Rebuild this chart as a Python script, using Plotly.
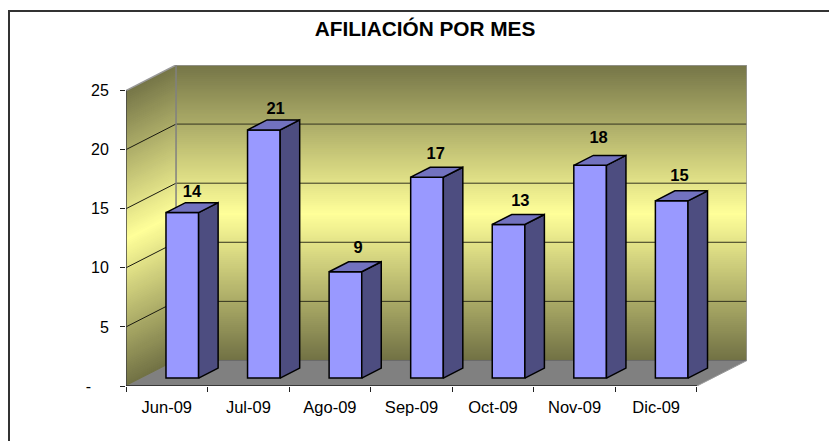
import plotly.graph_objects as go

# ---- data ----
months = ["Jun-09", "Jul-09", "Ago-09", "Sep-09", "Oct-09", "Nov-09", "Dic-09"]
afiliacion = [14, 21, 9, 17, 13, 18, 15]
y_ticks = [0, 5, 10, 15, 20, 25]
y_tick_labels = ["-\u00a0\u00a0\u00a0\u00a0", "5", "10", "15", "20", "25"]
title_text = "AFILIACIÓN POR MES"

# ---- 3D projection in axis units ----
WIDTH, HEIGHT = 829, 441
L, R, T, B = 126, 82, 65, 55
DX = 0.6135      # shift in categories for full floor depth
DY = 2.16        # shift in value units for full floor depth
N = len(months)
YMAX = y_ticks[-1]
BAR_W = 0.40
Z0, Z1 = 0.31, 0.70   # front and back of bars as fraction of depth
PX_PER_CAT = (WIDTH - L - R) / (N + DX)
PX_PER_VAL = (HEIGHT - T - B) / (YMAX + DY)
# hand placement of the value labels, in pixels
label_shift_x = [0, 2, 3, -1, 2, -1.3, -2]
label_shift_y = [0, 1, 3, 2.7, 3, 7.3, 4.5]


def lerp(c1, c2, t):
    return tuple(round(a + (b - a) * t) for a, b in zip(c1, c2))


OLIVE_T = (118, 118, 72)
OLIVE_B = (112, 112, 68)
YELLOW = (255, 255, 153)


def wall_colour(t):
    # t=0 top of wall, t=1 bottom
    if t < 0.5:
        c = lerp(OLIVE_T, YELLOW, t / 0.5)
    else:
        c = lerp(YELLOW, OLIVE_B, (t - 0.5) / 0.5)
    return "rgb(%d,%d,%d)" % c


shapes = []
BANDS = 150
for i in range(BANDS):
    t = i / BANDS
    v = YMAX * (1 - t)
    col = wall_colour(t)
    # back wall band (painted down to bottom so successive bands overlap)
    shapes.append(dict(type="path", layer="below", xref="x", yref="y",
                       path=f"M {DX},{DY + v} L {N + DX},{DY + v} L {N + DX},{DY} L {DX},{DY} Z",
                       fillcolor=col, line=dict(width=0)))
    # left wall band, sheared along depth
    shapes.append(dict(type="path", layer="below", xref="x", yref="y",
                       path=f"M 0,{v} L {DX},{DY + v} L {DX},{DY} L 0,0 Z",
                       fillcolor=col, line=dict(width=0)))

# floor
shapes.append(dict(type="path", layer="below", xref="x", yref="y",
                   path=f"M 0,0 L {N},0 L {N + DX},{DY} L {DX},{DY} Z",
                   fillcolor="#808080", line=dict(width=0)))

# grid lines on walls
for v in y_ticks[1:-1]:
    shapes.append(dict(type="line", layer="below", xref="x", yref="y",
                       x0=DX, x1=N + DX, y0=DY + v, y1=DY + v,
                       line=dict(color="#33331f", width=1)))
    shapes.append(dict(type="line", layer="below", xref="x", yref="y",
                       x0=0, x1=DX, y0=v, y1=DY + v,
                       line=dict(color="#1a1a10", width=1)))

# wall edges
edge = "#9a9a9a"
shapes += [
    dict(type="line", layer="below", xref="x", yref="y", x0=0, x1=DX, y0=YMAX, y1=DY + YMAX,
         line=dict(color=edge, width=1.5)),
    dict(type="line", layer="below", xref="x", yref="y", x0=DX, x1=N + DX, y0=DY + YMAX, y1=DY + YMAX,
         line=dict(color=edge, width=1.5)),
    dict(type="line", layer="below", xref="x", yref="y", x0=N + DX, x1=N + DX, y0=DY, y1=DY + YMAX,
         line=dict(color=edge, width=1.5)),
    dict(type="line", layer="below", xref="x", yref="y", x0=DX, x1=DX, y0=DY, y1=DY + YMAX,
         line=dict(color="#808080", width=1.5)),
    dict(type="line", layer="below", xref="x", yref="y", x0=DX, x1=N + DX, y0=DY, y1=DY,
         line=dict(color="#6a6a6a", width=1)),
    dict(type="line", layer="below", xref="x", yref="y", x0=N, x1=N + DX, y0=0, y1=DY,
         line=dict(color="#9a9a9a", width=1)),
]

# front axis lines
shapes += [
    dict(type="line", layer="above", xref="x", yref="y", x0=0, x1=0, y0=0, y1=YMAX,
         line=dict(color="#404040", width=1.5)),
    dict(type="line", layer="above", xref="x", yref="y", x0=0, x1=N, y0=0, y1=0,
         line=dict(color="#202020", width=1.5)),
]

# outer frame, running off the right and bottom of the canvas
pw, ph = WIDTH - L - R, HEIGHT - T - B
shapes.append(dict(type="rect", layer="below", xref="paper", yref="paper",
                   x0=(9 - L) / pw, x1=(WIDTH + 20 - L) / pw,
                   y0=-(HEIGHT + 20 - T - ph) / ph, y1=1 + (T - 11) / ph,
                   line=dict(color="#333333", width=2), fillcolor="rgba(0,0,0,0)"))

# bars
centers = [i + 0.5 + Z0 * DX for i in range(N)]
base = Z0 * DY
d_x = (Z1 - Z0) * DX
d_y = (Z1 - Z0) * DY

side_x, side_y, top_x, top_y, label_x, label_y = [], [], [], [], [], []
for c, v, sx, sy in zip(centers, afiliacion, label_shift_x, label_shift_y):
    xl, xr = c - BAR_W / 2, c + BAR_W / 2
    top = base + v
    side_x += [xr, xr + d_x, xr + d_x, xr, xr, None]
    side_y += [base, base + d_y, top + d_y, top, base, None]
    top_x += [xl, xl + d_x, xr + d_x, xr, xl, None]
    top_y += [top, top + d_y, top + d_y, top, top, None]
    label_x.append(c + d_x / 2 + sx / PX_PER_CAT)
    label_y.append(top + d_y + 0.1 + sy / PX_PER_VAL)

fig = go.Figure()
fig.add_trace(go.Bar(x=centers, y=afiliacion, base=base, width=BAR_W,
                     marker=dict(color="#9999FF", line=dict(color="black", width=1.5)),
                     hoverinfo="skip"))
fig.add_trace(go.Scatter(x=side_x, y=side_y, mode="lines", fill="toself",
                         fillcolor="#4D4D80", line=dict(color="black", width=1.5),
                         hoverinfo="skip"))
fig.add_trace(go.Scatter(x=top_x, y=top_y, mode="lines", fill="toself",
                         fillcolor="#7272BF", line=dict(color="black", width=1.5),
                         hoverinfo="skip"))
fig.add_trace(go.Scatter(x=label_x, y=label_y, mode="text",
                         text=[str(v) for v in afiliacion], textposition="top center",
                         textfont=dict(family="Liberation Sans", size=16.5, color="black", weight="bold"),
                         hoverinfo="skip"))

fig.update_layout(
    width=WIDTH, height=HEIGHT,
    margin=dict(l=L, r=R, t=T, b=B, autoexpand=False),
    paper_bgcolor="white", plot_bgcolor="white",
    showlegend=False,
    shapes=shapes,
    font=dict(family="Liberation Sans", size=16, color="black"),
    title=dict(text=f"<b>{title_text}</b>", x=425 / WIDTH, xanchor="center",
               y=1 - 29 / HEIGHT, yanchor="middle",
               font=dict(family="Liberation Sans", size=20.8, color="black")),
    xaxis=dict(range=[0, N + DX], showgrid=False, zeroline=False, showline=False,
               tickmode="array", tickvals=[i + 0.5 for i in range(N)], ticktext=months,
               ticks="", ticklabelstandoff=9, tickfont=dict(size=16.5),
               minor=dict(tickmode="array", tickvals=list(range(N + 1)), ticks="outside",
                          ticklen=5, tickwidth=1, tickcolor="#202020", showgrid=False)),
    yaxis=dict(range=[0, YMAX + DY], showgrid=False, zeroline=False, showline=False,
               tickmode="array", tickvals=y_ticks, ticktext=y_tick_labels,
               ticks="outside", ticklen=5, tickwidth=1, tickcolor="#202020",
               ticklabelstandoff=8, tickfont=dict(size=16)),
)

fig.write_html("out.html", config=dict(displayModeBar=False),
               post_script="document.body.style.margin='0';document.documentElement.style.overflow='hidden';")
